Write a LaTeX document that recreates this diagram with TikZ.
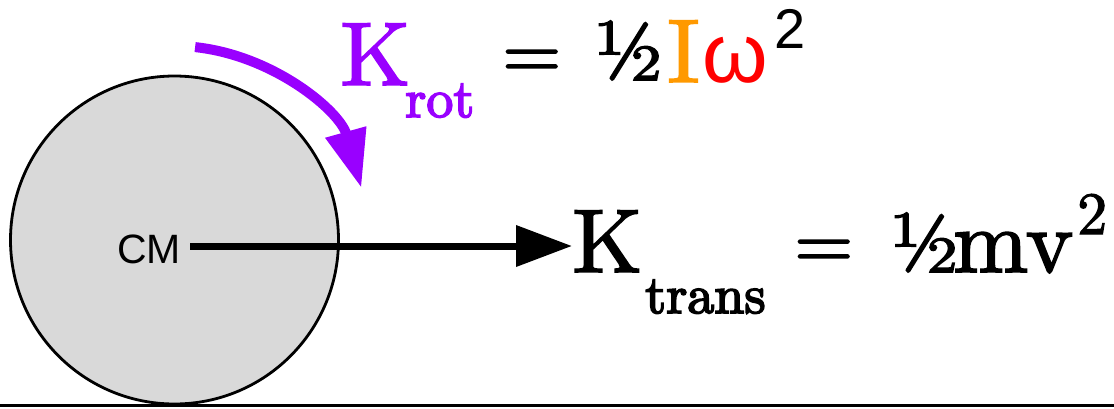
\documentclass[tikz,border=0pt]{standalone}
\usepackage{fontspec}
\setmainfont{lmroman10-regular.otf}[FakeBold=2]
\newfontfamily\subfont{lmroman10-regular.otf}[FakeBold=3.2]
\newfontfamily\sansf{Liberation Sans}
\usetikzlibrary{arrows.meta}
\definecolor{kpurple}{HTML}{9900FF}
\definecolor{korange}{HTML}{FF9900}
\definecolor{kred}{HTML}{FF0000}
\definecolor{wheelgray}{HTML}{D9D9D9}
\begin{document}
\begin{tikzpicture}[x=1pt,y=-1pt,
  txt/.style={inner sep=0pt, anchor=base west},
  big/.style={font=\fontsize{90}{90}\selectfont},
  subs/.style={font=\subfont\fontsize{54}{54}\selectfont},
  eqs/.style={font=\fontsize{76}{76}\selectfont},
  half/.style={font=\fontsize{84}{84}\selectfont}]
\useasboundingbox (0,0) rectangle (1114,408);
% ground
\coordinate (gl) at (0,405.5);
\coordinate (gr) at (1114,405.5);
\draw[line width=3pt] (gl) -- (gr);
% wheel
\node[circle, draw, line width=2.8pt, fill=wheelgray, minimum size=328pt, inner sep=0pt] (wheel) at (174.5,240) {};
\node[txt, anchor=base east, font=\sansf\fontsize{41}{41}\selectfont] (cmlabel) at (181,263) {CM};
\coordinate (cm) at (190,246);
% rotational arrow
\draw[kpurple, line width=10pt, -{Triangle[length=58pt,width=40pt]}]
  (wheel.center) ++(-83.9:194) arc[start angle=-83.9, end angle=-15.6, radius=194];
% K rot formula
\node[txt, big, text=kpurple] (krot) at (340,85) {K};
\node[txt, subs, text=kpurple] (rot) at (405,117) {rot};
\node[txt, eqs] (eq1) at (502,78) {=};
\node[txt, half] (half1) at (594,80) {½};
\node[txt, big, text=korange] (inertia) at (667,82) {I};
\node[txt, text=kred, font=\sansf\fontsize{84}{84}\selectfont] (omega) at (702,82) {ω};
\node[txt, font=\sansf\fontsize{56}{56}\selectfont] (sq1) at (774,48) {2};
% K trans formula
\node[txt, big] (ktrans) at (572,272) {K};
\node[txt, subs] (trans) at (645,313) {trans};
\node[txt, eqs] (eq2) at (794,268) {=};
\node[txt, half] (half2) at (890,272) {½};
\node[txt, big] (mv) at (953,272) {mv};
\node[txt, font=\fontsize{60}{60}\selectfont] (sq2) at (1077,234) {2};
% translational arrow
\draw[line width=7pt, -{Triangle[length=56pt,width=40pt]}] (cm) -- (ktrans.west |- cm);
\end{tikzpicture}
\end{document}
